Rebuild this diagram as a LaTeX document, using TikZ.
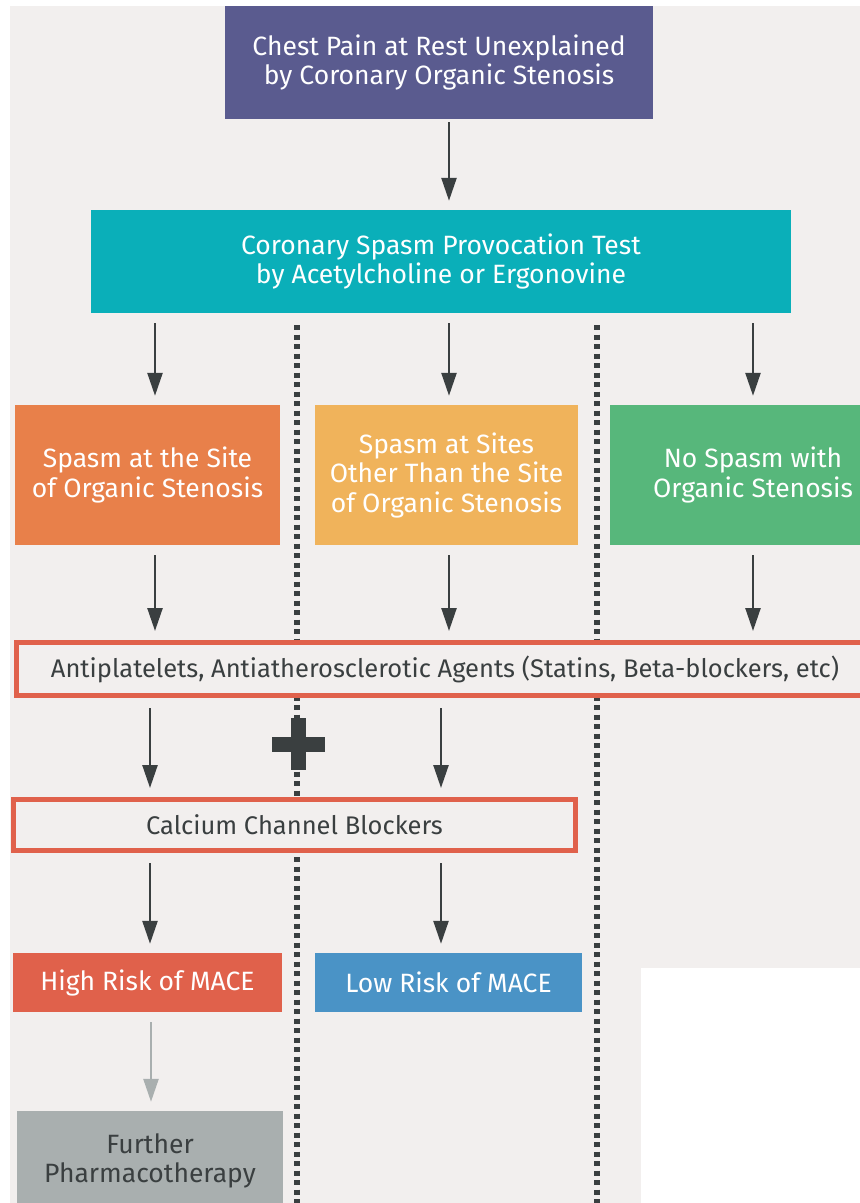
\documentclass[tikz,border=0pt]{standalone}
\usepackage{fontspec}
\setmainfont{Fira Sans}
\usetikzlibrary{arrows.meta}
\definecolor{paper}{HTML}{F2EFEE}
\definecolor{ink}{HTML}{3A3F40}
\definecolor{chestblue}{HTML}{5A5B8F}
\definecolor{testteal}{HTML}{0AAFB9}
\definecolor{siteorange}{HTML}{E8804A}
\definecolor{otheryellow}{HTML}{F0B35B}
\definecolor{nogreen}{HTML}{57B77B}
\definecolor{riskred}{HTML}{E0614B}
\definecolor{riskblue}{HTML}{4A93C6}
\definecolor{furthergray}{HTML}{A9AFAF}
\tikzset{
    stepbox/.style={shape=rectangle, fill=#1, text=white, align=center,
        inner sep=0pt, font=\fontsize{26.5}{29.5}\selectfont},
    drugbox/.style={shape=rectangle, draw=riskred, line width=5pt, fill=paper,
        text=ink, align=center, inner sep=0pt, font=\fontsize{25.5}{29}\selectfont},
    flow/.style={draw=ink, line width=2.5pt, -{Triangle[length=23pt, width=15pt]},
        shorten <=10pt, shorten >=9pt},
    divider/.style={draw=ink, line width=6pt, dash pattern=on 5pt off 4.5pt}}

\begin{document}
\begin{tikzpicture}[x=1pt, y=-1pt]
    \useasboundingbox (0,0) rectangle (860,1203);
    \clip (0,0) rectangle (860,1203);
    \fill[paper] (10,6) rectangle (860,1203);
    \fill[white] (641,968) rectangle (860,1203);

    \draw[divider] (297,325) -- (297,1203);
    \draw[divider] (597,325) -- (597,1203);

    \node[stepbox=chestblue, minimum width=428pt, minimum height=113pt] (chest) at (439,62.5) {Chest Pain at Rest Unexplained\\by Coronary Organic Stenosis};
    \node[stepbox=testteal, minimum width=700pt, minimum height=103pt] (test) at (441,261.5) {Coronary Spasm Provocation Test\\by Acetylcholine or Ergonovine};

    \node[stepbox=siteorange, minimum width=265pt, minimum height=140pt] (site) at (147.5,475) {Spasm at the Site\\of Organic Stenosis};
    \node[stepbox=otheryellow, minimum width=263pt, minimum height=140pt] (other) at (446.5,475) {Spasm at Sites\\Other Than the Site\\of Organic Stenosis};
    \node[stepbox=nogreen, minimum width=286pt, minimum height=140pt] (none) at (753,475) {No Spasm with\\Organic Stenosis};

    \node[drugbox, minimum width=858pt, minimum height=53pt] (anti) at (445,669) {Antiplatelets, Antiatherosclerotic Agents (Statins, Beta-blockers, etc)};
    \node[drugbox, minimum width=562pt, minimum height=51pt] (ccb) at (294.5,825) {Calcium Channel Blockers};

    \node[stepbox=riskred, minimum width=269pt, minimum height=59pt] (high) at (147.5,982.5) {High Risk of MACE};
    \node[stepbox=riskblue, minimum width=267pt, minimum height=59pt] (low) at (448.5,982.5) {Low Risk of MACE};
    \node[stepbox=furthergray, text=ink, minimum width=266pt, minimum height=100pt] (further) at (150,1161) {Further\\Pharmacotherapy};

    \fill[ink] (290.5,718) rectangle (305.5,770);
    \fill[ink] (272,737) rectangle (325,752);

    \draw[flow, shorten <=3pt] ([xshift=10pt]chest.south) -- ([xshift=10pt]chest.south |- test.north);
    \draw[flow] ([xshift=7.5pt]site.north |- test.south) -- ([xshift=7.5pt]site.north);
    \draw[flow] ([xshift=2.5pt]other.north |- test.south) -- ([xshift=2.5pt]other.north);
    \draw[flow] (none.north |- test.south) -- (none.north);
    \draw[flow] ([xshift=7.5pt]site.south) -- ([xshift=7.5pt]site.south |- anti.north);
    \draw[flow] ([xshift=2.5pt]other.south) -- ([xshift=2.5pt]other.south |- anti.north);
    \draw[flow] (none.south) -- (none.south |- anti.north);
    \draw[flow] ([xshift=2.5pt]high.north |- anti.south) -- ([xshift=2.5pt]high.north |- ccb.north);
    \draw[flow] ([xshift=-7.5pt]low.north |- anti.south) -- ([xshift=-7.5pt]low.north |- ccb.north);
    \draw[flow] ([xshift=2.5pt]high.north |- ccb.south) -- ([xshift=2.5pt]high.north);
    \draw[flow] ([xshift=-7.5pt]low.north |- ccb.south) -- ([xshift=-7.5pt]low.north);
    \draw[flow, draw=furthergray] ([xshift=3.5pt]high.south) -- ([xshift=3.5pt]high.south |- further.north);

\end{tikzpicture}
\end{document}
